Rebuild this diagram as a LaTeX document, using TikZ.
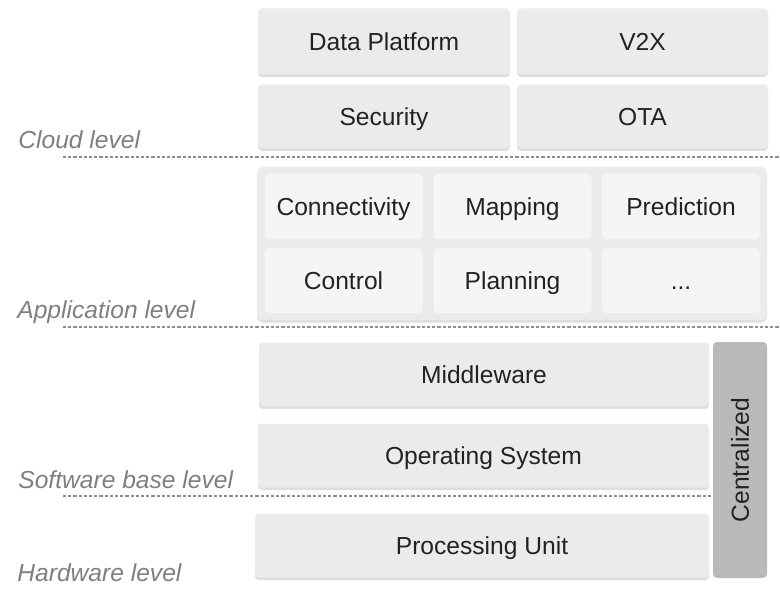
\documentclass[tikz,border=0pt]{standalone}
\usepackage{fontspec}
\setmainfont{Liberation Sans}
\usetikzlibrary{shadows}
\definecolor{boxfill}{HTML}{EBEBEB}
\definecolor{innerfill}{HTML}{F5F5F5}
\definecolor{sidefill}{HTML}{B9B9B9}
\definecolor{txt}{HTML}{222222}
\definecolor{lvl}{HTML}{7F7F7F}
\definecolor{sep}{HTML}{8E8E8E}
\tikzset{
  boxtext/.style={text=txt, font=\fontsize{12.3}{14}\selectfont, inner sep=0pt,
    text height=8.8pt, text depth=0pt},
  layerbox/.style={boxtext, draw=none, fill=boxfill, rounded corners=2pt,
    drop shadow={shadow xshift=0pt, shadow yshift=-1.3pt, fill=black, opacity=0.13}},
  appbox/.style={boxtext, draw=none, fill=innerfill, rounded corners=2pt,
    minimum width=79pt, minimum height=32.5pt},
  container/.style={draw=none, fill=boxfill, rounded corners=3pt, inner sep=0pt,
    drop shadow={shadow xshift=0pt, shadow yshift=-1.3pt, fill=black, opacity=0.13}},
  sidebox/.style={draw=none, fill=sidefill, rounded corners=2pt, inner sep=0pt},
  levellabel/.style={anchor=base west, inner sep=0pt, text=lvl,
    font=\fontsize{12.3}{14}\selectfont\itshape},
  separator/.style={draw=sep, line width=0.55pt, dash pattern=on 1.6pt off 1pt}
}
\begin{document}
\begin{tikzpicture}[x=0.5pt, y=-0.5pt]
  \useasboundingbox (0,0) rectangle (780,588);

  % Cloud level
  \node[layerbox, minimum width=126pt, minimum height=33pt] (data) at (384,41.5) {Data Platform};
  \node[layerbox, minimum width=125.5pt, minimum height=33pt] (v2x) at (642.5,41.5) {V2X};
  \node[layerbox, minimum width=126pt, minimum height=32pt] (sec) at (384,116.5) {Security};
  \node[layerbox, minimum width=125.5pt, minimum height=32pt] (ota) at (642.5,116.5) {OTA};

  % Application level
  \node[container, minimum width=255pt, minimum height=76.5pt] (apps) at (512,243.5) {};
  \node[appbox] (conn) at (343.5,206.5) {Connectivity};
  \node[appbox] (map)  at (512.5,206.5) {Mapping};
  \node[appbox] (pred) at (681,206.5) {Prediction};
  \node[appbox] (ctrl) at (343.5,280.5) {Control};
  \node[appbox] (plan) at (512.5,280.5) {Planning};
  \node[appbox] (more) at (681,280.5) {...};

  % Software base and hardware level
  \node[layerbox, minimum width=225pt, minimum height=32pt] (mw) at (484,374.5) {Middleware};
  \node[layerbox, minimum width=225.5pt, minimum height=32pt] (os) at (483.5,455.5) {Operating System};
  \node[layerbox, minimum width=227pt, minimum height=32pt] (pu) at (482,545.5) {Processing Unit};
  \node[sidebox, minimum width=27pt, minimum height=118pt] (cent) at (740,460) {};
  \node[boxtext, rotate=90] (centlabel) at (cent.center) {Centralized};

  % Level separators
  \coordinate (s1a) at (63,157);  \coordinate (s1b) at (780,157);
  \coordinate (s2a) at (63,327);  \coordinate (s2b) at (780,327);
  \coordinate (s3a) at (63,496);  \coordinate (s3b) at (cent.west |- s3a);
  \draw[separator] (s1a) -- (s1b);
  \draw[separator] (s2a) -- (s2b);
  \draw[separator] (s3a) -- (s3b);

  % Level names
  \node[levellabel] (cloud) at (18,149) {Cloud level};
  \node[levellabel] (app)   at (17,318) {Application level};
  \node[levellabel] (swb)   at (18,488) {Software base level};
  \node[levellabel] (hw)    at (17,581) {Hardware level};
\end{tikzpicture}
\end{document}
